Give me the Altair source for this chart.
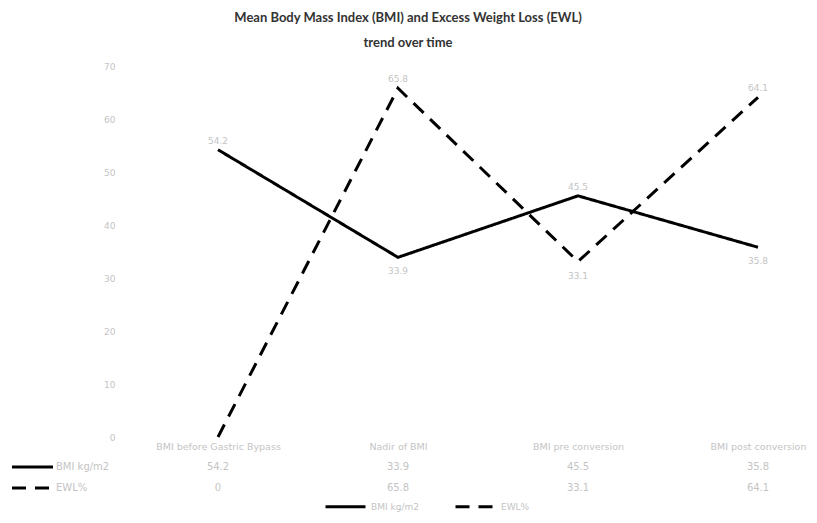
import altair as alt
import pandas as pd

categories = ["BMI before Gastric Bypass", "Nadir of BMI", "BMI pre conversion", "BMI post conversion"]
series_names = ["BMI kg/m2", "EWL%"]
bmi_values = [54.2, 33.9, 45.5, 35.8]
ewl_values = [0, 65.8, 33.1, 64.1]

rows = []
for i, c in enumerate(categories):
    b, e = bmi_values[i], ewl_values[i]
    rows.append({"category": c, "series": series_names[0], "value": b, "above": b >= e})
    rows.append({"category": c, "series": series_names[1], "value": e, "above": e > b})
df = pd.DataFrame(rows)

W, H = 670, 371
faint = "#c4c4c4"
tfont = "DejaVu Sans"

x_enc = alt.X("category:N", sort=categories,
              scale=alt.Scale(type="point", range=[93, 633], padding=0),
              axis=alt.Axis(title=None, labelAngle=0, domain=False, ticks=False,
                            labelColor=faint, labelFontSize=9.5, labelPadding=4,
                            labelFont=tfont, labelLimit=0))
y_enc = alt.Y("value:Q", scale=alt.Scale(domain=[0, 70]),
              axis=alt.Axis(title=None, values=[0, 10, 20, 30, 40, 50, 60, 70], grid=False,
                            domain=False, ticks=False, labelColor=faint, labelFontSize=9,
                            labelPadding=10, labelFont=tfont))

dash_scale = alt.Scale(domain=series_names, range=[[1, 0], [14, 9]])

lines = alt.Chart(df).mark_line(color="black", strokeWidth=3).encode(
    x=x_enc, y=y_enc,
    strokeDash=alt.StrokeDash("series:N", scale=dash_scale,
                              legend=alt.Legend(title=None, orient="none", legendX=199, legendY=419,
                                                direction="horizontal", symbolType="stroke",
                                                symbolSize=1600, symbolStrokeWidth=3,
                                                symbolStrokeColor="black", labelColor=faint,
                                                labelFontSize=9, columnPadding=30,
                                                labelFont=tfont)),
    detail="series:N",
)

lab_above = alt.Chart(df).transform_filter("datum.above && datum.value > 0").mark_text(
    dy=-9, fontSize=9, color=faint, font=tfont).encode(
    x=alt.X("category:N", sort=categories), y="value:Q", text=alt.Text("value:Q"))
lab_below = alt.Chart(df).transform_filter("!datum.above && datum.value > 0").mark_text(
    dy=14, fontSize=9, color=faint, font=tfont).encode(
    x=alt.X("category:N", sort=categories), y="value:Q", text=alt.Text("value:Q"))

main = alt.layer(lines, lab_above, lab_below)

ty = alt.Y("series:N", sort=series_names, axis=None,
           scale=alt.Scale(type="point", range=[401, 422], padding=0))

table_text = alt.Chart(df).mark_text(fontSize=10, color=faint, font=tfont).encode(
    x=alt.X("category:N", sort=categories), y=ty, text=alt.Text("value:Q"))

table_sym = alt.Chart(df).transform_filter(
    alt.datum.category == categories[0]).mark_rule(color="black", strokeWidth=3).encode(
    x=alt.value(-113), x2=alt.value(-72), y=ty,
    strokeDash=alt.StrokeDash("series:N", scale=dash_scale, legend=None))

table_lab = alt.Chart(df).transform_filter(
    alt.datum.category == categories[0]).mark_text(
    align="left", fontSize=10, color=faint, font=tfont).encode(
    x=alt.value(-69), y=ty, text="series:N")

table = alt.layer(table_text, table_sym, table_lab)

chart = alt.layer(main, table).resolve_scale(y="independent").properties(
    width=W, height=H,
    autosize=alt.AutoSizeParams(type="none"),
    padding={"left": 117, "top": 58, "right": 14, "bottom": 78},
    title=alt.Title(["Mean Body Mass Index (BMI) and Excess Weight Loss (EWL)", "trend over time"],
                    font="Lato", fontSize=13, fontWeight="bold", color="#333333",
                    anchor="middle", dx=-52, offset=12, lineHeight=25),
).configure_view(stroke=None)

chart.save("out.html", embed_options={"renderer": "svg", "actions": False})
